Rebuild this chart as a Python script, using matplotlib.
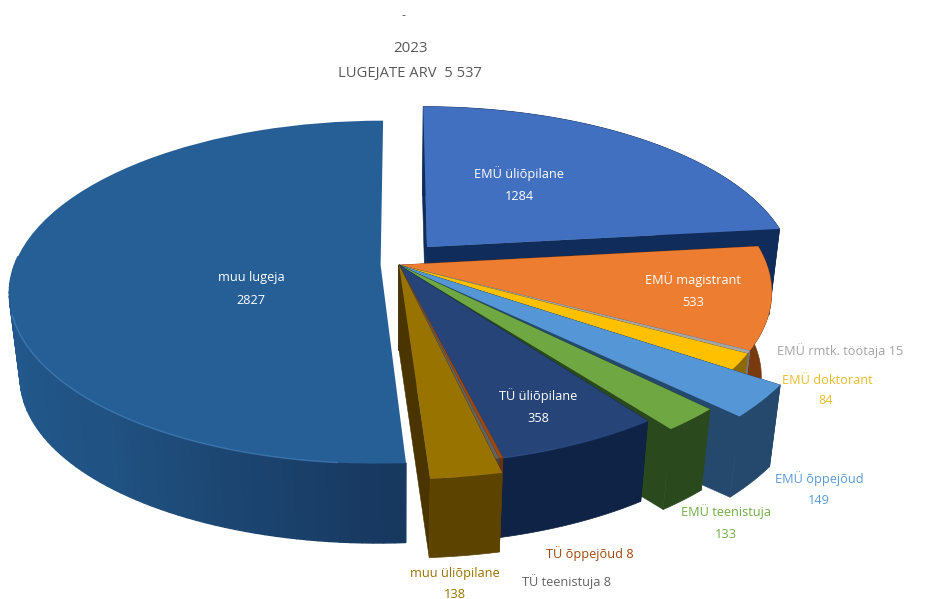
import numpy as np
import matplotlib
matplotlib.use("Agg")
import matplotlib.pyplot as plt
from matplotlib.transforms import Transform
from matplotlib.patches import Polygon
from matplotlib.colors import to_rgb

# ---- data ----
categories = ["EMÜ üliõpilane", "EMÜ magistrant", "EMÜ rmtk. töötaja", "EMÜ doktorant",
              "EMÜ õppejõud", "EMÜ teenistuja", "TÜ üliõpilane", "TÜ õppejõud",
              "TÜ teenistuja", "muu üliõpilane", "muu lugeja"]
values = [1284, 533, 15, 84, 149, 133, 358, 8, 8, 138, 2827]

# ---- styles ----
top_colors = ["#4270c0", "#ed7d31", "#a5a5a5", "#ffc000", "#5596d6", "#6fa843",
              "#264478", "#9e480e", "#636363", "#997300", "#255f96"]
wall_colors = ["#102c5a", "#7a3a10", "#777777", "#8c6a05", "#25496c", "#2a4a1e",
               "#0e2345", "#6e3209", "#444444", "#5c4300", "#205480"]
cut_colors = ["#102c5a", "#7a3a10", "#777777", "#8c6a05", "#25496c", "#2a4a1e",
              "#0e2345", "#6e3209", "#444444", "#4a3500", "#205480"]
radii = [1.0, 1.0, 1.0, 1.0, 1.13, 1.06, 1.0, 1.0, 1.0, 1.06, 0.995]
offsets = [(0.0774, 0.109), (0, 0), (0, 0), (0, 0), (0, 0), (0, 0),
           (0, 0), (0, 0), (0, 0), (0, 0), (-0.05, 0.0)]
gaps = [0, 0, 0, 0, 0, 1.2, 1.0, 0, 0, 0, 0]
paint_order = [10, 0, 1, 2, 3, 4, 5, 6, 7, 8, 9]
shade_angles = [-183, -180, -130, -86]
shade_colors = ["#245c92", "#245c92", "#205282", "#17375e"]

CX, CY, A, B, K = 399.0, 265.0, 368.0, 168.0, 0.159
SHRINK, DROP = 0.972, 85.0


def project(u, v):
    d = 1 + K * v
    return CX + A * u / d, CY - B * v / d


def lower(x, y):
    return CX + SHRINK * (x - CX), CY + SHRINK * (y - CY) + DROP


class Perspective(Transform):
    input_dims = 2
    output_dims = 2
    has_inverse = False
    is_separable = False

    def transform_non_affine(self, values):
        values = np.asarray(values, dtype=float)
        x, y = project(values[:, 0], values[:, 1])
        return np.column_stack([x, y])


plt.rcParams["font.family"] = ["Open Sans", "DejaVu Sans"]
fig = plt.figure(figsize=(9.31, 5.99), dpi=100)
ax = fig.add_axes([0, 0, 1, 1])
wedges, _ = ax.pie(values, startangle=90, counterclock=False, colors=top_colors,
                   wedgeprops=dict(linewidth=0))
ax.set_aspect("auto")
ax.set_xlim(0, 931)
ax.set_ylim(599, 0)
ax.axis("off")
persp = Perspective() + ax.transData
shade_rgb = np.array([to_rgb(c) for c in shade_colors])


def rim(i, theta):
    t = np.deg2rad(theta)
    return (offsets[i][0] + radii[i] * np.cos(t), offsets[i][1] + radii[i] * np.sin(t))


z = 2
for i in paint_order:
    w = wedges[i]
    t1, t2 = w.theta1, w.theta2
    t2_trim = t2 - gaps[i]
    apex = project(*offsets[i])
    apex_low = lower(*apex)
    if i != 10:  # the large slice hides its own cut faces
        for th in (t2_trim, t1):
            p = project(*rim(i, th))
            ax.add_patch(Polygon([apex, p, lower(*p), apex_low], closed=True,
                                 fc=cut_colors[i], ec=cut_colors[i], lw=0.4, zorder=z))
            z += 1
    wall_start = max(t1, -183) if i == 10 else t1
    angles = np.linspace(wall_start, t2_trim, max(3, int((t2_trim - wall_start) / 1.5) + 2))
    upper_pts = [project(*rim(i, a)) for a in angles]
    lower_pts = [lower(*p) for p in upper_pts]
    if i == 10:
        # shaded outer wall
        for j in range(len(angles) - 1):
            m = 0.5 * (angles[j] + angles[j + 1])
            col = [np.interp(m, shade_angles, shade_rgb[:, c]) for c in range(3)]
            ax.add_patch(Polygon([upper_pts[j], upper_pts[j + 1], lower_pts[j + 1], lower_pts[j]],
                                 closed=True, fc=col, ec=col, lw=1.0, zorder=z))
    else:
        ax.add_patch(Polygon(upper_pts + lower_pts[::-1], closed=True,
                             fc=wall_colors[i], ec=wall_colors[i], lw=0.5, zorder=z))
    z += 1
    # top surface: the pie's own wedge, through the perspective transform
    w.set_center(offsets[i])
    w.set_radius(radii[i])
    w.set_theta2(t2_trim)
    w.set_transform(persp)
    w.set_clip_on(False)
    w.set_zorder(z)
    z += 1
    if i in (10, 6):
        # light rim along the front edge of the top surface
        front = [p for p, a in zip(upper_pts, angles) if -165 < a < -95 or i == 6]
        ax.plot([p[0] for p in front], [p[1] for p in front],
                color="#4a88c4" if i == 10 else "#2d4f8c",
                lw=1.0, alpha=0.6, zorder=z, solid_capstyle="butt")
        z += 1

# ---- text ----
TZ = 100
FS = 9.2
inside = [("EMÜ üliõpilane", "1284", 519, 174, 197),
          ("muu lugeja", "2827", 251, 278, 301),
          ("EMÜ magistrant", "533", 693, 280, 302),
          ("TÜ üliõpilane", "358", 538, 396, 418)]
for name, val, x, y1, y2 in inside:
    ax.text(x, y1, name, color="white", ha="center", va="center", fontsize=FS,
            fontweight="medium", zorder=TZ)
    ax.text(x, y2, val, color="white", ha="center", va="center", fontsize=FS,
            fontweight="medium", zorder=TZ)

outside = [("EMÜ rmtk. töötaja 15", 840, 351, "#a5a5a5"),
           ("EMÜ doktorant", 827, 380, "#e9bd2a"),
           ("84", 826, 401, "#e9bd2a"),
           ("EMÜ õppejõud", 819, 479, "#5b9bd5"),
           ("149", 819, 501, "#5b9bd5"),
           ("EMÜ teenistuja", 726, 512, "#70ad47"),
           ("133", 726, 534, "#70ad47"),
           ("TÜ õppejõud 8", 590, 554, "#9e480e"),
           ("TÜ teenistuja 8", 566, 582, "#636363"),
           ("muu üliõpilane", 455, 573, "#997300"),
           ("138", 455, 594, "#997300")]
for s, x, y, c in outside:
    ax.text(x, y, s, color=c, ha="center", va="center", fontsize=FS,
            fontweight="medium", zorder=TZ)

ax.text(404, 16, "-", color="#595959", ha="center", va="center", fontsize=FS, zorder=TZ)
ax.text(410, 48, "2023", color="#595959", ha="center", va="center", fontsize=10.8, zorder=TZ)
ax.text(410, 73, "LUGEJATE ARV  5 537", color="#595959", ha="center", va="center",
        fontsize=10.6, zorder=TZ)

fig.savefig("out.png", dpi=100, facecolor="white")
